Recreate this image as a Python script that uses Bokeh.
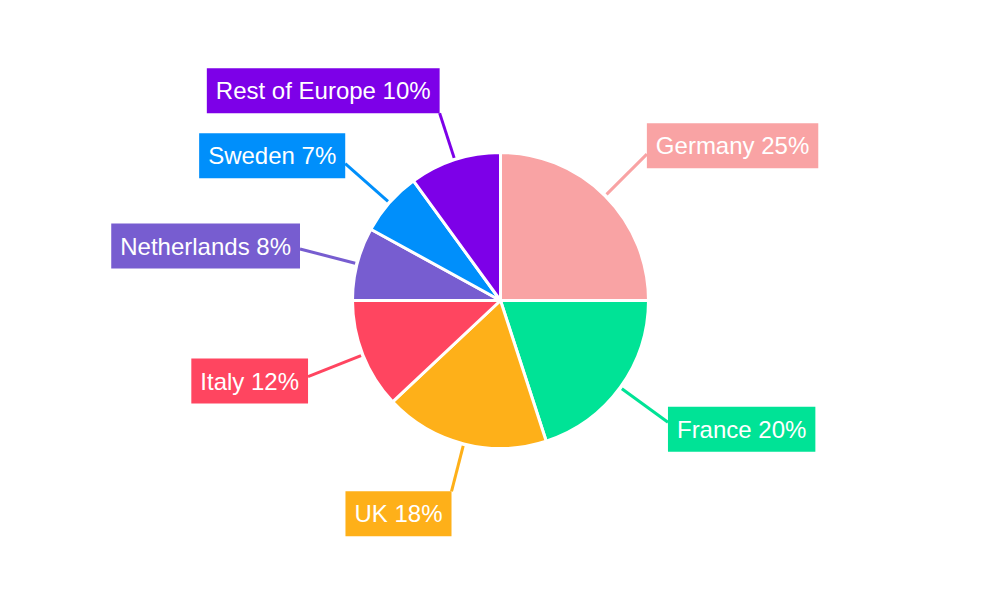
import math
from bokeh.plotting import figure
from bokeh.models import ColumnDataSource, Range1d
from bokeh.core.properties import value
from bokeh.embed import file_html
from bokeh.resources import INLINE

countries = ["Germany", "France", "UK", "Italy", "Netherlands", "Sweden", "Rest of Europe"]
shares = [25, 20, 18, 12, 8, 7, 10]
colors = ["#F9A3A4", "#00E396", "#FEB019", "#FF4560", "#775DD0", "#008FFB", "#7D00E8"]

# layout (page-pixel coordinates; data y = 600 - page y)
CX, CY, R = 500, 300, 148
total = sum(shares)

starts, ends, mids = [], [], []
acc = 0.0
for s in shares:
    a0 = math.pi / 2 - 2 * math.pi * acc / total
    acc += s
    a1 = math.pi / 2 - 2 * math.pi * acc / total
    starts.append(a0)
    ends.append(a1)
    mids.append((a0 + a1) / 2)

wedges = ColumnDataSource(dict(start=starts, end=ends, color=colors))

lx0, ly0, lx1, ly1 = [], [], [], []
tx, ty, labels, aligns, baselines = [], [], [], [], []
for name, s, m in zip(countries, shares, mids):
    c, sn = math.cos(m), math.sin(m)
    if abs(sn) > 0.9:
        rl = 197
        base = "bottom" if sn > 0 else "top"
        shift = 0
    else:
        rl = 207
        base = "middle"
        shift = 12 * sn
    align = "left" if c > 0 else "right"
    lx0.append(CX + 150 * c)
    ly0.append(CY + 150 * sn)
    ex, ey = CX + rl * c, CY + rl * sn
    lx1.append(ex)
    ly1.append(ey)
    tx.append(ex)
    ty.append(ey + shift)
    labels.append(f"{name} {s}%")
    aligns.append(align)
    baselines.append(base)

lines = ColumnDataSource(dict(x0=lx0, y0=ly0, x1=lx1, y1=ly1, color=colors))
texts = ColumnDataSource(dict(x=tx, y=ty, text=labels, align=aligns, base=baselines, color=colors))

p = figure(width=984, height=584, output_backend="svg", toolbar_location=None,
           x_range=Range1d(0, 984), y_range=Range1d(16, 600), min_border=0)
p.axis.visible = False
p.grid.visible = False
p.outline_line_color = None
p.background_fill_color = "white"
p.border_fill_color = "white"

p.wedge(x=CX, y=CY, radius=R, start_angle="start", end_angle="end", direction="clock",
        fill_color="color", line_color="white", line_width=3, source=wedges)
p.segment(x0="x0", y0="y0", x1="x1", y1="y1", line_color="color", line_width=3, source=lines)
p.text(x="x", y="y", text="text", text_align="align", text_baseline="base",
       text_color="white", text_font=value("Liberation Sans"), text_font_size="24px",
       background_fill_color="color", padding=9, source=texts)

open("out.html", "w").write(file_html(p, INLINE))
